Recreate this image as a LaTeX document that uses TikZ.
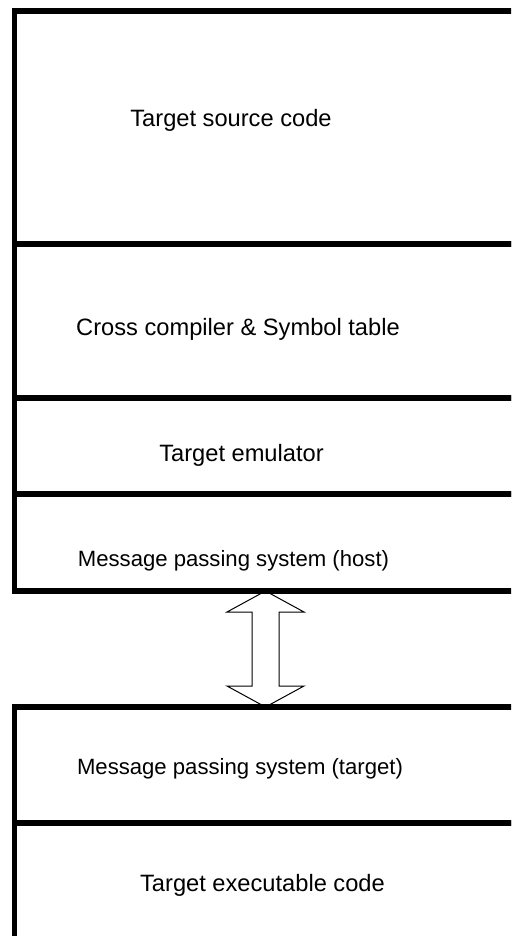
\documentclass[tikz,border=0pt]{standalone}
\usepackage{fontspec}
\setmainfont{Liberation Sans}
\usetikzlibrary{calc,positioning}
\tikzset{
    layer/.style ={draw, rectangle, line width=4.1pt, anchor=north west,
                   outer sep=0pt, inner sep=0pt, minimum width=409pt},
    txt/.style ={anchor=base, inner sep=0pt, font=\fontsize{17.75}{20}\selectfont},
    msg/.style ={txt, font=\fontsize{16.6}{20}\selectfont},
    blockarrow/.style={draw, line width=0.75pt, line join=miter}
}
\begin{document}
\begin{tikzpicture}[x=0.75pt,y=-0.75pt]
    \useasboundingbox (0,0) rectangle (511,936);
    \clip (0,0) rectangle (511,936);

    % host side
    \node[layer, minimum height=174.75pt] (source) at (14.5,11) {};
    \node[layer, minimum height=115.5pt] (compiler) at (source.south west) {};
    \node[layer, minimum height=72pt] (emulator) at (compiler.south west) {};
    \node[layer, minimum height=72.75pt] (host) at (emulator.south west) {};

    % target side
    \node[layer, minimum height=87pt] (target) at (14.5,707) {};
    \node[layer, minimum height=125pt] (exec) at (target.south west) {};

    \node[txt] (tsource) at (231,126) {Target source code};
    \node[txt] (tcompiler) at (238,335) {Cross compiler \& Symbol table};
    \node[txt] (temulator) at (241.5,461) {Target emulator};
    \node[msg] (thost) at (233.5,566) {Message passing system (host)};
    \node[msg] (ttarget) at (240,774) {Message passing system (target)};
    \node[txt] (texec) at (262.5,891) {Target executable code};

    \coordinate (axis) at (265.5,0);
    \draw[blockarrow] (host.south -| axis) -- ++(38.5,21) -- ++(-25,0)
        -- ($(target.north -| axis)+(13.5,-21)$) -- ++(25,0)
        -- (target.north -| axis) -- ++(-38.5,-21) -- ++(25,0)
        -- ($(host.south -| axis)+(-13.5,21)$) -- ++(-25,0) -- cycle;
\end{tikzpicture}
\end{document}
